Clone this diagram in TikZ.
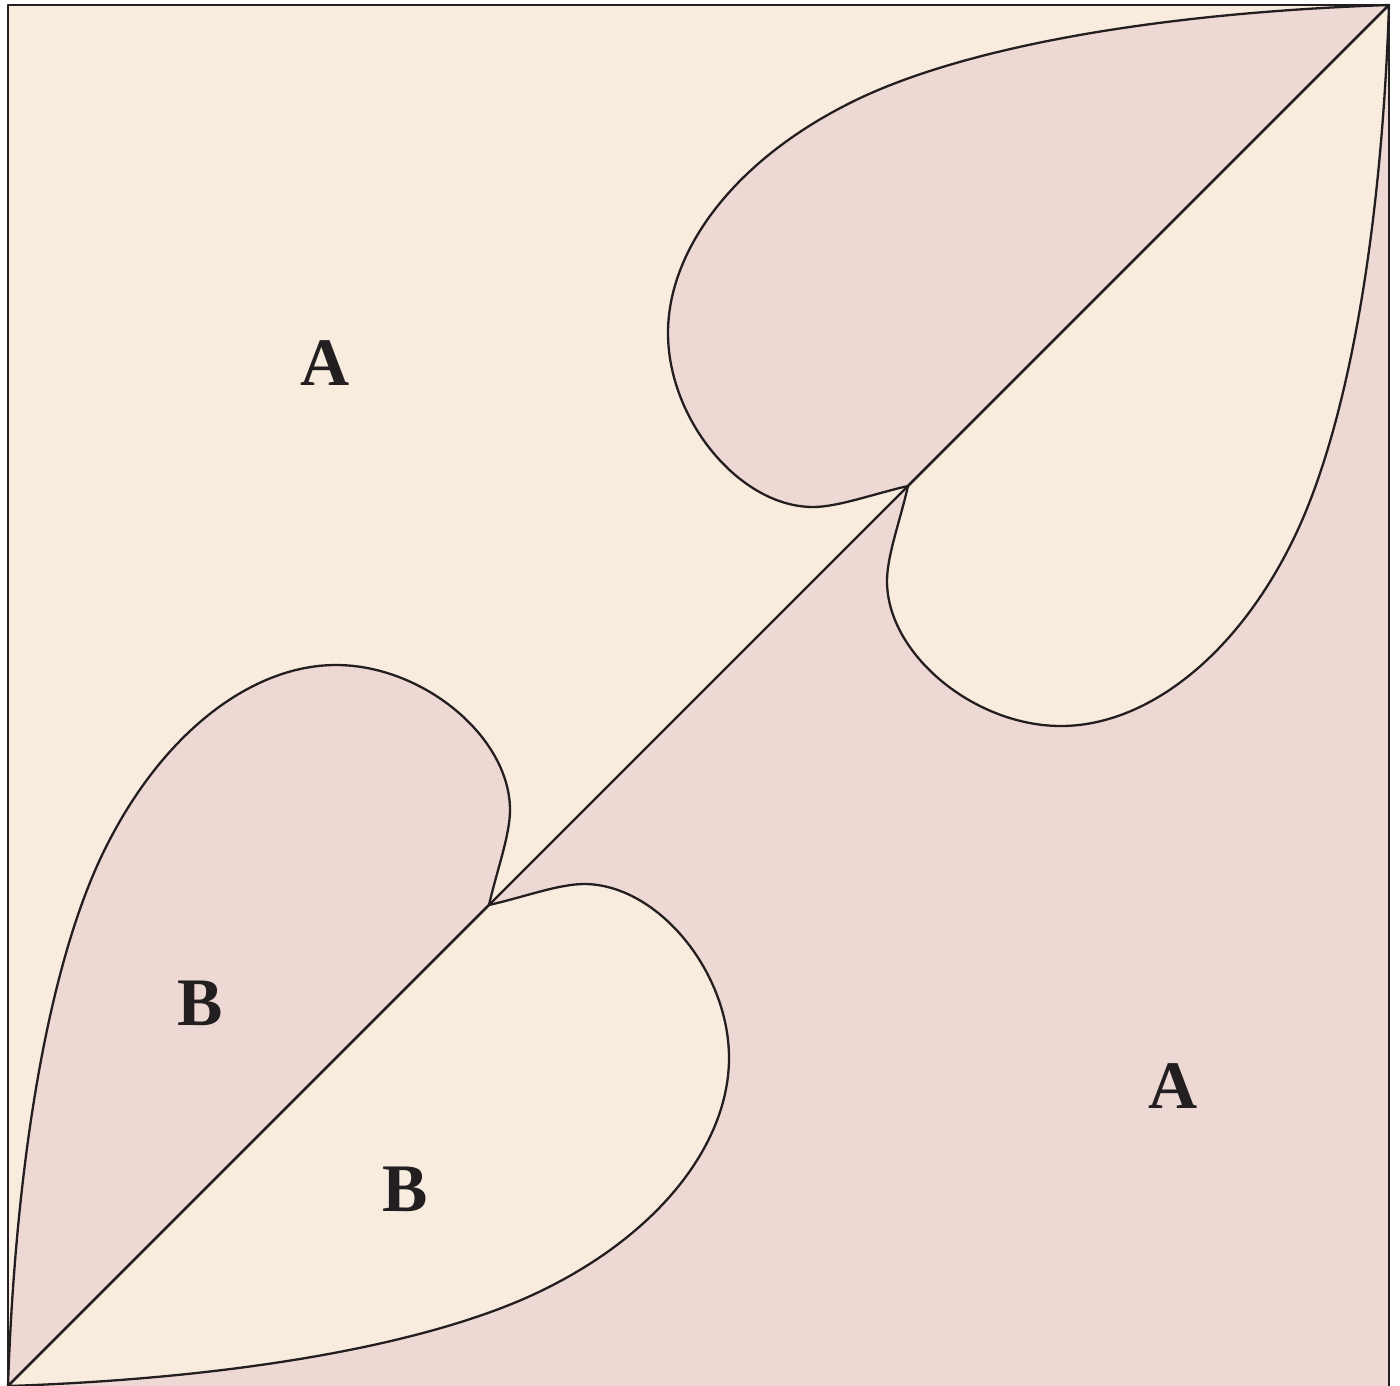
\documentclass[tikz,border=0pt]{standalone}
\usepackage{fontspec}
\setmainfont{Liberation Serif}
\begin{document}
\begin{tikzpicture}[x=1pt,y=-1pt,
  cream/.style={fill={rgb,255:red,247;green,236;blue,222}},
  pink/.style={fill={rgb,255:red,238;green,216;blue,211}},
  edge/.style={draw={rgb,255:red,35;green,31;blue,32},line width=2.3pt,line join=round},
  lbl/.style={inner sep=0pt,text={rgb,255:red,35;green,31;blue,32},font=\fontsize{68}{70}\selectfont\bfseries}]
\useasboundingbox (0,0) rectangle (1400,1385);
\clip (0,0) rectangle (1400,1385);
\coordinate (TL) at (8,5);
\coordinate (TR) at (1389,5);
\coordinate (BR) at (1389,1388);
\coordinate (BL) at (8,1386);
\coordinate (BLf) at (8,1388);
\coordinate (T1) at (908,486);
\coordinate (T2) at (489,905);
% background triangles
\path[cream] (BLf) -- (BL) -- (TL) -- (TR) -- cycle;
\path[pink] (BLf) -- (BR) -- (TR) -- (BL) -- cycle;
% lobe 1 (pink, upper)
\path[pink,edge] (T1) .. controls (873,494) and (838,507) .. (813,507)
  .. controls (740,507) and (668,420) .. (668,333)
  .. controls (668,250) and (734,161) .. (850,103)
  .. controls (957,49) and (1150,13) .. (TR) -- cycle;
% lobe 2 (cream, right)
\path[cream,edge] (T1) .. controls (900,521) and (887,556) .. (887,581)
  .. controls (887,654) and (974,726) .. (1061,726)
  .. controls (1144,726) and (1233,660) .. (1291,544)
  .. controls (1345,437) and (1381,244) .. (TR) -- cycle;
% lobe 3 (pink, left)
\path[pink,edge] (T2) .. controls (497,870) and (510,835) .. (510,810)
  .. controls (510,737) and (423,665) .. (336,665)
  .. controls (253,665) and (164,731) .. (106,847)
  .. controls (52,954) and (16,1147) .. (BL) -- cycle;
% lobe 4 (cream, lower)
\path[cream,edge] (T2) .. controls (524,897) and (559,884) .. (584,884)
  .. controls (657,884) and (729,971) .. (729,1058)
  .. controls (729,1141) and (663,1230) .. (547,1288)
  .. controls (440,1342) and (247,1378) .. (BL) -- cycle;
% diagonal and frame
\draw[edge] (BL) -- (TR);
\draw[edge] (TL) rectangle (BR);
% labels
\node[lbl] (a1) at (325,363) {A};
\node[lbl] (a2) at (1173,1086) {A};
\node[lbl] (b1) at (200,1003) {B};
\node[lbl] (b2) at (405,1189) {B};
\end{tikzpicture}
\end{document}
